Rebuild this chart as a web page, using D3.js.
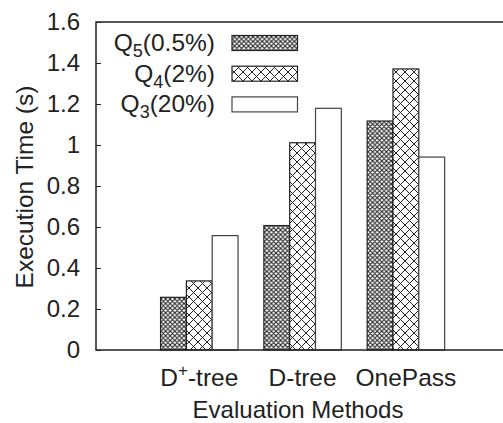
<!DOCTYPE html>
<html><head><meta charset="utf-8">
<script src="https://cdn.jsdelivr.net/npm/d3@7/dist/d3.min.js"></script>
<style>body{margin:0;background:#fff}svg{display:block}text{font-family:"Liberation Sans",Arial,sans-serif;fill:#222}</style>
</head><body>
<svg id="c" width="503" height="423"></svg>
<script>
const categories = ["D+-tree", "D-tree", "OnePass"];
const seriesNames = ["Q5", "Q4", "Q3"];
const seriesSub = ["5", "4", "3"];
const seriesPct = ["(0.5%)", "(2%)", "(20%)"];
const q5 = [0.257, 0.607, 1.117];
const q4 = [0.337, 1.011, 1.371];
const q3 = [0.558, 1.179, 0.941];
const yTicks = [0, 0.2, 0.4, 0.6, 0.8, 1, 1.2, 1.4, 1.6];

(function () {
const seriesValues = [q5, q4, q3];
const svg = d3.select("#c");
const mL = 96, mT = 22, mB = 350, mR = 520;
const y = d3.scaleLinear().domain([0, 1.6]).range([mB, mT]);
const step = 103.3;
const x = d3.scaleBand().domain(categories)
  .range([mL + step * 0.5, mL + step * 3.5]).paddingInner(0.25).paddingOuter(0.125);
const xs = d3.scaleBand().domain(seriesNames).range([0, x.bandwidth()]);

const defs = svg.append("defs");
const p5 = defs.append("pattern").attr("id", "p5").attr("patternUnits", "userSpaceOnUse")
  .attr("width", 4.6).attr("height", 4.6);
p5.append("rect").attr("width", 4.6).attr("height", 4.6).attr("fill", "#fff");
p5.append("path").attr("d", "M0,0L4.6,4.6M4.6,0L0,4.6M-1,3.6L1,5.6M3.6,-1L5.6,1M-1,1L1,-1M3.6,5.6L5.6,3.6")
  .attr("stroke", "#222").attr("stroke-width", 1.1);
const p4 = defs.append("pattern").attr("id", "p4").attr("patternUnits", "userSpaceOnUse")
  .attr("width", 9).attr("height", 9);
p4.append("rect").attr("width", 9).attr("height", 9).attr("fill", "#fff");
p4.append("path").attr("d", "M0,0L9,9M9,0L0,9")
  .attr("stroke", "#222").attr("stroke-width", 1);
const fills = ["url(#p5)", "url(#p4)", "#fff"];
const strokes = ["#222", "#222", "#444"];

seriesValues.forEach((vals, si) => {
  svg.append("g").selectAll("rect").data(vals).join("rect")
    .attr("x", (d, i) => x(categories[i]) + xs(seriesNames[si]))
    .attr("y", d => y(d))
    .attr("width", xs.bandwidth())
    .attr("height", d => y(0) - y(d))
    .attr("fill", fills[si]).attr("stroke", strokes[si]).attr("stroke-width", 1.2);
});

svg.append("path").attr("d", `M${mR},${mT}H${mL}V${mB}H${mR}`)
  .attr("fill", "none").attr("stroke", "#222").attr("stroke-width", 1.5);

const ya = d3.axisLeft(y).tickValues(yTicks).tickSize(-5).tickPadding(16).tickFormat(d3.format("~g"));
const yg = svg.append("g").attr("transform", `translate(${mL},0)`).call(ya);
yg.select(".domain").remove();
yg.selectAll("line").attr("stroke", "#222").attr("stroke-width", 1);
yg.selectAll("text").attr("font-size", 24).style("font-family", '"Liberation Sans",Arial,sans-serif').attr("fill", "#222");

const xl = svg.append("g");
categories.forEach((c, i) => {
  const t = xl.append("text").attr("x", x(c) + x.bandwidth() / 2).attr("y", 386)
    .attr("text-anchor", "middle").attr("font-size", 24.5);
  if (c.startsWith("D+")) {
    t.append("tspan").text("D");
    t.append("tspan").text("+").attr("font-size", 17).attr("dy", -10);
    t.append("tspan").text("-tree").attr("dy", 10);
  } else t.text(c);
});
svg.append("text").attr("x", 298).attr("y", 418).attr("text-anchor", "middle")
  .attr("font-size", 24).text("Evaluation Methods");
svg.append("text").attr("transform", "translate(33,187) rotate(-90)").attr("text-anchor", "middle")
  .attr("font-size", 24.5).text("Execution Time (s)");

seriesNames.forEach((s, i) => {
  const cy = 43 + i * 30.7;
  const t = svg.append("text").attr("x", 215).attr("y", cy + 8).attr("text-anchor", "end").attr("font-size", 24.5);
  t.append("tspan").text("Q");
  t.append("tspan").text(seriesSub[i]).attr("font-size", 18).attr("dy", 6);
  t.append("tspan").text(seriesPct[i]).attr("dy", -6);
  svg.append("rect").attr("x", 232).attr("y", cy - 7.5).attr("width", 65.5).attr("height", 15)
    .attr("fill", fills[i]).attr("stroke", strokes[i]).attr("stroke-width", 1.2);
});
})();
</script>
</body></html>
